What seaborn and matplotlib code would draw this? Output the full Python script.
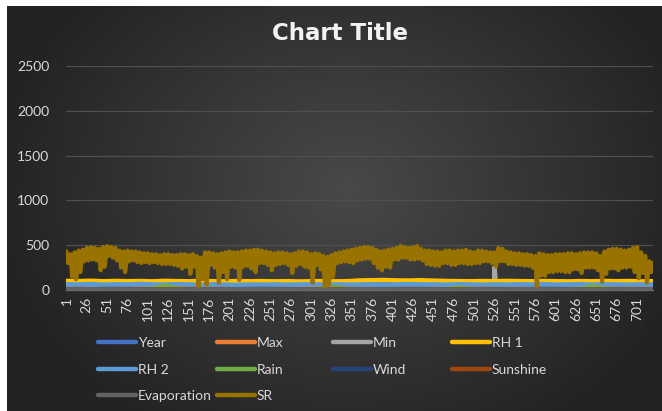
import numpy as np
import pandas as pd
import matplotlib
matplotlib.use('Agg')
import matplotlib.pyplot as plt
from matplotlib.lines import Line2D
import seaborn as sns

# series names / colours (Office palette, in drawing order)
series_names = ['Year', 'Max', 'Min', 'RH 1', 'RH 2', 'Rain', 'Wind', 'Sunshine', 'Evaporation', 'SR']
series_colors = ['#4472C4', '#ED7D31', '#A5A5A5', '#FFC000', '#5B9BD5',
                 '#70AD47', '#264478', '#9E480E', '#636363', '#997300']

# SR: local highs read at day 1, 6, 11, ... and local lows at day 3, 8, 13, ...
sr_hi = [430, 400, 420, 440, 450, 470, 480, 470, 460, 480,
         490, 480, 470, 440, 430, 440, 430, 430, 420, 410,
         410, 400, 400, 390, 400, 400, 390, 390, 400, 400,
         390, 400, 380, 360, 420, 420, 410, 400, 410, 420,
         430, 420, 420, 430, 440, 440, 450, 450, 440, 430,
         420, 410, 420, 420, 410, 400, 410, 430, 430, 420,
         400, 410, 400, 380, 370, 390, 410, 420, 430, 440,
         450, 460, 470, 480, 480, 470, 450, 430, 440, 450,
         460, 470, 490, 480, 470, 480, 490, 460, 440, 440,
         430, 430, 420, 440, 440, 430, 440, 440, 450, 430,
         420, 440, 440, 430, 420, 420, 470, 460, 430, 420,
         410, 410, 400, 400, 390, 380, 410, 400, 390, 390,
         400, 400, 400, 410, 410, 400, 410, 420, 420, 420,
         410, 380, 430, 450, 460, 460, 450, 440, 450, 470,
         480, 420, 380, 320, 310]
sr_lo = [300, 150, 120, 200, 320, 330, 340, 330, 220, 260,
         380, 360, 330, 250, 200, 320, 330, 310, 300, 310,
         300, 310, 300, 290, 290, 290, 280, 270, 240, 260,
         180, 260, 40, 120, 60, 280, 250, 80, 200, 120,
         260, 250, 110, 260, 270, 240, 200, 300, 300, 280,
         220, 280, 290, 300, 280, 190, 270, 290, 260, 250,
         80, 280, 230, 40, 60, 150, 300, 310, 320, 310,
         300, 330, 340, 350, 350, 300, 250, 220, 260, 250,
         340, 340, 360, 360, 340, 340, 350, 330, 290, 280,
         270, 270, 300, 300, 280, 280, 300, 300, 290, 290,
         300, 300, 320, 320, 300, 260, 320, 320, 290, 290,
         280, 280, 270, 270, 250, 40, 160, 160, 200, 200,
         210, 210, 200, 200, 230, 230, 190, 250, 250, 250,
         220, 90, 180, 240, 240, 220, 250, 250, 260, 200,
         130, 190, 80, 200, 250]

# other series read every 15 days (day 1, 16, 31, ...)
year_vals = [1] * 24 + [2] * 25
max_vals = [33, 34, 35, 34, 33, 32, 30, 28, 27, 26, 27, 29, 31, 33, 34, 35, 34, 33, 32, 30,
            28, 26, 26, 28, 31, 33, 35, 34, 33, 32, 30, 28, 27, 26, 27, 29, 32, 34, 35, 34,
            33, 32, 30, 28, 27, 26, 27, 29, 31]
min_vals = [18, 19, 20, 19, 17, 15, 13, 11, 10, 9, 10, 12, 15, 18, 20, 21, 20, 19, 17, 14,
            12, 10, 9, 11, 14, 17, 20, 21, 20, 18, 15, 12, 10, 9, 10, 13, 16, 19, 21, 20,
            19, 17, 14, 12, 10, 9, 10, 12, 15]
min_spike_days = [524, 526, 528]
min_spike_vals = [20, 250, 20]
rh1_vals = [100, 98, 102, 96, 100, 97, 99, 95, 101, 98, 96, 100, 97, 95, 99, 96, 98, 95, 97, 94,
            96, 98, 95, 97, 105, 108, 110, 106, 104, 108, 103, 100, 98, 96, 99, 97, 100, 98, 96, 99,
            97, 95, 98, 96, 100, 97, 99, 95, 97]
rh2_vals = [62, 60, 65, 58, 63, 60, 66, 61, 59, 64, 60, 57, 62, 59, 55, 60, 58, 62, 57, 60,
            63, 59, 61, 58, 60, 62, 58, 61, 64, 60, 62, 58, 63, 60, 57, 61, 59, 62, 60, 64,
            58, 61, 63, 59, 62, 60, 58, 61, 60]
rain_vals = [0, 0, 2, 0, 0, 0, 5, 12, 45, 20, 3, 0, 0, 0, 0, 0, 0, 0, 0, 0,
             4, 18, 30, 8, 0, 0, 0, 0, 0, 0, 0, 6, 25, 10, 0, 0, 0, 0, 0, 0,
             0, 0, 8, 40, 15, 2, 0, 0, 0]
wind_vals = [6, 7, 8, 9, 10, 9, 8, 7, 5, 4, 4, 5, 6, 7, 8, 9, 10, 9, 8, 7,
             5, 4, 4, 5, 6, 7, 8, 9, 10, 9, 8, 6, 5, 4, 4, 5, 6, 7, 9, 10,
             9, 8, 7, 5, 4, 4, 5, 6, 6]
sun_vals = [8, 9, 7, 6, 5, 4, 5, 6, 7, 8, 9, 9, 8, 9, 7, 5, 4, 3, 4, 6,
            7, 8, 9, 8, 8, 9, 7, 6, 5, 4, 5, 6, 7, 8, 9, 9, 8, 9, 7, 5,
            4, 3, 4, 6, 7, 8, 9, 8, 8]
evap_vals = [5, 6, 7, 6, 5, 4, 3, 3, 2, 2, 3, 4, 5, 6, 7, 7, 6, 5, 4, 3,
             3, 2, 2, 3, 5, 6, 7, 6, 5, 4, 3, 3, 2, 2, 3, 4, 5, 6, 7, 7,
             6, 5, 4, 3, 3, 2, 2, 3, 5]

xtick_labels = list(range(1, 702, 25))

# build long table
frames = []
def add(name, days, vals):
    frames.append(pd.DataFrame({'day': list(days), 'value': vals, 'series': name}))

grid15 = range(1, 1 + 15 * len(max_vals), 15)
add('Year', grid15, year_vals)
add('Max', grid15, max_vals)
add('Min', list(grid15) + min_spike_days, min_vals + min_spike_vals)
add('RH 1', grid15, rh1_vals)
add('RH 2', grid15, rh2_vals)
add('Rain', grid15, rain_vals)
add('Wind', grid15, wind_vals)
add('Sunshine', grid15, sun_vals)
add('Evaporation', grid15, evap_vals)
add('SR', list(range(1, 1 + 5 * len(sr_hi), 5)) + list(range(3, 3 + 5 * len(sr_lo), 5)),
    sr_hi + sr_lo)
df = pd.concat(frames, ignore_index=True).sort_values(['series', 'day'])

sns.set_style('dark')
plt.rcParams['font.family'] = ['Lato', 'DejaVu Sans']

W, H = 662, 411
fig = plt.figure(figsize=(W / 100, H / 100), dpi=100, facecolor='white')

# dark radial gradient background
bg = fig.add_axes([7 / W, 0, (W - 7) / W, (H - 6) / H])
gy, gx = np.mgrid[0:1:300j, 0:1:400j]
r = np.sqrt(((gx - 0.52) / 0.62) ** 2 + ((gy - 0.45) / 0.8) ** 2)
shade = np.clip(0.285 - 0.17 * r, 0.14, 1)
bg.imshow(np.dstack([shade] * 3), aspect='auto', extent=[0, 1, 0, 1])
bg.axis('off')

ax = fig.add_axes([66 / W, 1 - 290 / H, (653 - 66) / W, (290 - 66) / H])
ax.patch.set_alpha(0)

palette = dict(zip(series_names, series_colors))
small = df[df['series'] != 'SR']
sns.lineplot(data=small, x='day', y='value', hue='series', hue_order=series_names[:-1],
             palette=palette, estimator=None, sort=True, linewidth=3.4,
             legend=False, ax=ax)
sns.lineplot(data=df[df['series'] == 'SR'], x='day', y='value', color=palette['SR'],
             estimator=None, sort=True, linewidth=3.0, legend=False, ax=ax)

ax.set_xlim(0.5, 720.5)
ax.set_ylim(0, 2500)
ax.set_yticks(range(0, 2501, 500))
ax.set_xticks(xtick_labels)
ax.set_xticklabels([str(v) for v in xtick_labels], rotation=90)
ax.tick_params(axis='both', colors='#d9d9d9', labelsize=10, length=0)
ax.tick_params(axis='y', pad=12)
ax.tick_params(axis='x', pad=5)
ax.grid(axis='y', color='#4f4f4f', linewidth=0.9)
ax.grid(axis='x', visible=False)
ax.set_axisbelow(True)
for s in ['top', 'right', 'left']:
    ax.spines[s].set_visible(False)
ax.spines['bottom'].set_color('#6a6a6a')
ax.spines['bottom'].set_linewidth(1.0)
ax.set_xlabel('')
ax.set_ylabel('')

fig.text(340 / W, 1 - 33 / H, 'Chart Title', ha='center', va='center',
         fontsize=16.5, fontweight='bold', color='#f2f2f2',
         family=['DejaVu Sans'])

# legend laid out row by row like Excel, one legend per column
cols = [['Year', 'RH 2', 'Evaporation'], ['Max', 'Rain', 'SR'], ['Min', 'Wind'], ['RH 1', 'Sunshine']]
col_x = [98, 217, 333, 452]
for names, x in zip(cols, col_x):
    handles = [Line2D([], [], color=palette[n], linewidth=3.2, solid_capstyle='round') for n in names]
    fig.legend(handles, names, loc='upper left', bbox_to_anchor=(x / W, 1 - 337 / H),
               frameon=False, handlelength=2.75, handletextpad=0.1, labelspacing=1.05,
               fontsize=10, labelcolor='#d9d9d9', borderpad=0, borderaxespad=0)

fig.savefig('out.png', dpi=100, facecolor=fig.get_facecolor())
